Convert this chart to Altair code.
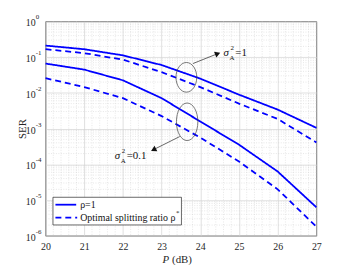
import altair as alt
import numpy as np
import pandas as pd

# ---------------- data ----------------
P_dB = [20, 21, 22, 23, 24, 25, 26, 27]
ser_s1_rho1 = [0.21, 0.166, 0.112, 0.060, 0.025, 0.0089, 0.0034, 0.00105]
ser_s1_opt = [0.166, 0.129, 0.085, 0.038, 0.0145, 0.0050, 0.00186, 0.00041]
ser_s01_rho1 = [0.066, 0.0447, 0.0224, 0.0071, 0.00158, 0.000355, 0.000063, 0.0000063]
ser_s01_opt = [0.0257, 0.0145, 0.0071, 0.00224, 0.00056, 0.00012, 0.00002, 0.0000018]

x_ticks = [20, 21, 22, 23, 24, 25, 26, 27]
y_ticks = [1, 1e-1, 1e-2, 1e-3, 1e-4, 1e-5, 1e-6]
y_exps = ["0", "-1", "-2", "-3", "-4", "-5", "-6"]

FONT = "Liberation Serif"
BLUE = "#0000ff"

rows = []
for grp, kind, vals in [("s1", "rho1", ser_s1_rho1), ("s1", "opt", ser_s1_opt),
                        ("s01", "rho1", ser_s01_rho1), ("s01", "opt", ser_s01_opt)]:
    for p, v in zip(P_dB, vals):
        rows.append({"P": p, "SER": v, "grp": grp, "kind": kind, "id": grp + kind})
df = pd.DataFrame(rows)

xs = alt.Scale(domain=[20, 27], nice=False, zero=False)
ys = alt.Scale(type="log", domain=[1e-6, 1], nice=False)

XAX = alt.Axis(values=x_ticks, grid=True, gridColor="#d2d2d2", gridWidth=0.7,
               ticks=False, domain=False, labelFont=FONT, labelFontSize=10,
               labelColor="#262626", labelPadding=6, title=None, format="d", labelFlush=False)
YAX = alt.Axis(values=y_ticks, grid=True, gridColor="#d2d2d2", gridWidth=0.7,
               ticks=False, domain=False, labels=False, title=None)


def X(f):
    return alt.X(f, scale=xs, axis=XAX)


def Y(f):
    return alt.Y(f, scale=ys, axis=YAX)


# minor grid positions
minor_x = pd.DataFrame({"x": [round(20 + 0.2 * i, 2) for i in range(36) if i % 5 != 0]})
minor_y = pd.DataFrame({"y": [k * 10.0 ** n for n in range(-6, 0) for k in range(2, 10)]})

grid_x = alt.Chart(minor_x).mark_rule(color="#cfcfcf", strokeWidth=0.5, strokeDash=[1, 1.5]).encode(
    x=X("x:Q"))
grid_y = alt.Chart(minor_y).mark_rule(color="#cfcfcf", strokeWidth=0.5, strokeDash=[1, 1.5]).encode(
    y=Y("y:Q"))

lines = alt.Chart(df).mark_line(color=BLUE, strokeWidth=1.8).encode(
    x=X("P:Q"),
    y=Y("SER:Q"),
    strokeDash=alt.StrokeDash("kind:N", scale=alt.Scale(domain=["rho1", "opt"], range=[[1, 0], [6, 4]]),
                              legend=None),
    detail="id:N",
)

# y tick labels 10^n
ylab_df = pd.DataFrame({"v": y_ticks, "e": y_exps})
ylab_base = alt.Chart(ylab_df).mark_text(text="10", align="right", baseline="middle", font=FONT,
                                         fontSize=10, color="#262626", dy=2).encode(
    y=Y("v:Q"), x=alt.value(-10))
ylab_exp = alt.Chart(ylab_df).mark_text(align="left", baseline="middle", font=FONT,
                                        fontSize=7, color="#262626", dy=-4).encode(
    y=Y("v:Q"), x=alt.value(-10), text="e:N")

# axis titles
one = pd.DataFrame({"a": [0]})
xtitle_p = alt.Chart(one).mark_text(text="P", font=FONT, fontStyle="italic", fontSize=11, align="right",
                                    baseline="middle", color="#262626").encode(x=alt.value(125), y=alt.value(241))
xtitle_db = alt.Chart(one).mark_text(text="(dB)", font=FONT, fontSize=11, align="left",
                                     baseline="middle", color="#262626").encode(x=alt.value(128), y=alt.value(241))
ytitle = alt.Chart(one).mark_text(text="SER", font=FONT, fontSize=11, angle=270, align="center",
                                  baseline="middle", color="#262626").encode(x=alt.value(-23), y=alt.value(109))

# ellipses
ell_up = pd.DataFrame({"x": [23.64], "y": [0.0272]})
ell_lo = pd.DataFrame({"x": [23.66], "y": [0.00155]})
ellipse_up = alt.Chart(ell_up).mark_point(
    shape="M -0.7 0 A 0.7 1 0 1 0 0.7 0 A 0.7 1 0 1 0 -0.7 0 Z", size=900, filled=False,
    color="#404040", strokeWidth=0.7, opacity=1).encode(x=X("x:Q"), y=Y("y:Q"))
ellipse_lo = alt.Chart(ell_lo).mark_point(
    shape="M -0.57 0 A 0.57 1 0 1 0 0.57 0 A 0.57 1 0 1 0 -0.57 0 Z", size=1444, filled=False,
    color="#404040", strokeWidth=0.7, opacity=1).encode(x=X("x:Q"), y=Y("y:Q"))

# arrows
arr = pd.DataFrame({"x": [23.81, 23.47], "y": [0.066, 6.0e-4], "x2": [24.45, 22.79], "y2": [0.125, 2.57e-4],
                    "ang": [338, 153]})
arrow_lines = alt.Chart(arr).mark_rule(color="#262626", strokeWidth=0.7).encode(
    x=X("x:Q"), y=Y("y:Q"), x2="x2:Q", y2="y2:Q")
arrow_heads = alt.Chart(arr).mark_point(shape="triangle-right", filled=True, color="#111111", size=40,
                                        opacity=1).encode(
    x=X("x2:Q"), y=Y("y2:Q"), angle=alt.Angle("ang:Q", scale=None))

# sigma labels
sig = pd.DataFrame({"x": [24.60, 21.79], "y": [0.108, 1.45e-4], "rest": ["=1", "=0.1"]})
sig_s = alt.Chart(sig).mark_text(text="σ", font=FONT, fontSize=11, fontStyle="italic", color="#111111",
                                 baseline="alphabetic", align="left").encode(x=X("x:Q"), y=Y("y:Q"))
sig_2 = alt.Chart(sig).mark_text(text="2", font=FONT, fontSize=7, dx=7, dy=-6, color="#111111",
                                 baseline="alphabetic", align="left").encode(x=X("x:Q"), y=Y("y:Q"))
sig_a = alt.Chart(sig).mark_text(text="A", font=FONT, fontSize=7, dx=6, dy=4, color="#111111",
                                 baseline="alphabetic", align="left").encode(x=X("x:Q"), y=Y("y:Q"))
sig_r = alt.Chart(sig).mark_text(font=FONT, fontSize=11, dx=12, color="#111111",
                                 baseline="alphabetic", align="left").encode(x=X("x:Q"), y=Y("y:Q"),
                                                                             text="rest:N")

# manual legend
leg_box = alt.Chart(one).mark_rect(fill="white", stroke="#262626", strokeWidth=0.7).encode(
    x=alt.value(7.5), x2=alt.value(137.5), y=alt.value(178), y2=alt.value(206))
leg_l1 = alt.Chart(one).mark_rule(color=BLUE, strokeWidth=1.8).encode(
    x=alt.value(10), x2=alt.value(31), y=alt.value(185.5))
leg_l2 = alt.Chart(one).mark_rule(color=BLUE, strokeWidth=1.8, strokeDash=[6, 4]).encode(
    x=alt.value(10), x2=alt.value(32), y=alt.value(198.5))
leg_t1 = alt.Chart(one).mark_text(text="ρ=1", font=FONT, fontSize=10, align="left", baseline="middle",
                                  color="#111111").encode(x=alt.value(35), y=alt.value(185.5))
leg_t2 = alt.Chart(one).mark_text(text="Optimal splitting ratio ρ", font=FONT, fontSize=10, align="left",
                                  baseline="middle", color="#111111").encode(x=alt.value(35), y=alt.value(198.5))
leg_t3 = alt.Chart(one).mark_text(text="*", font=FONT, fontSize=7, align="left", baseline="middle",
                                  color="#111111").encode(x=alt.value(132), y=alt.value(194))

chart = alt.layer(
    grid_x, grid_y, lines,
    ylab_base, ylab_exp, xtitle_p, xtitle_db, ytitle,
    ellipse_up, ellipse_lo, arrow_lines, arrow_heads,
    sig_s, sig_2, sig_a, sig_r,
    leg_box, leg_l1, leg_l2, leg_t1, leg_t2, leg_t3,
).properties(
    width=274, height=217,
    autosize=alt.AutoSizeParams(type="none"),
    padding={"left": 38, "top": 12, "right": 30, "bottom": 28},
    background="white",
).configure_view(stroke="#262626", strokeWidth=0.8)

chart.save("out.html", embed_options={"renderer": "svg", "actions": False})
